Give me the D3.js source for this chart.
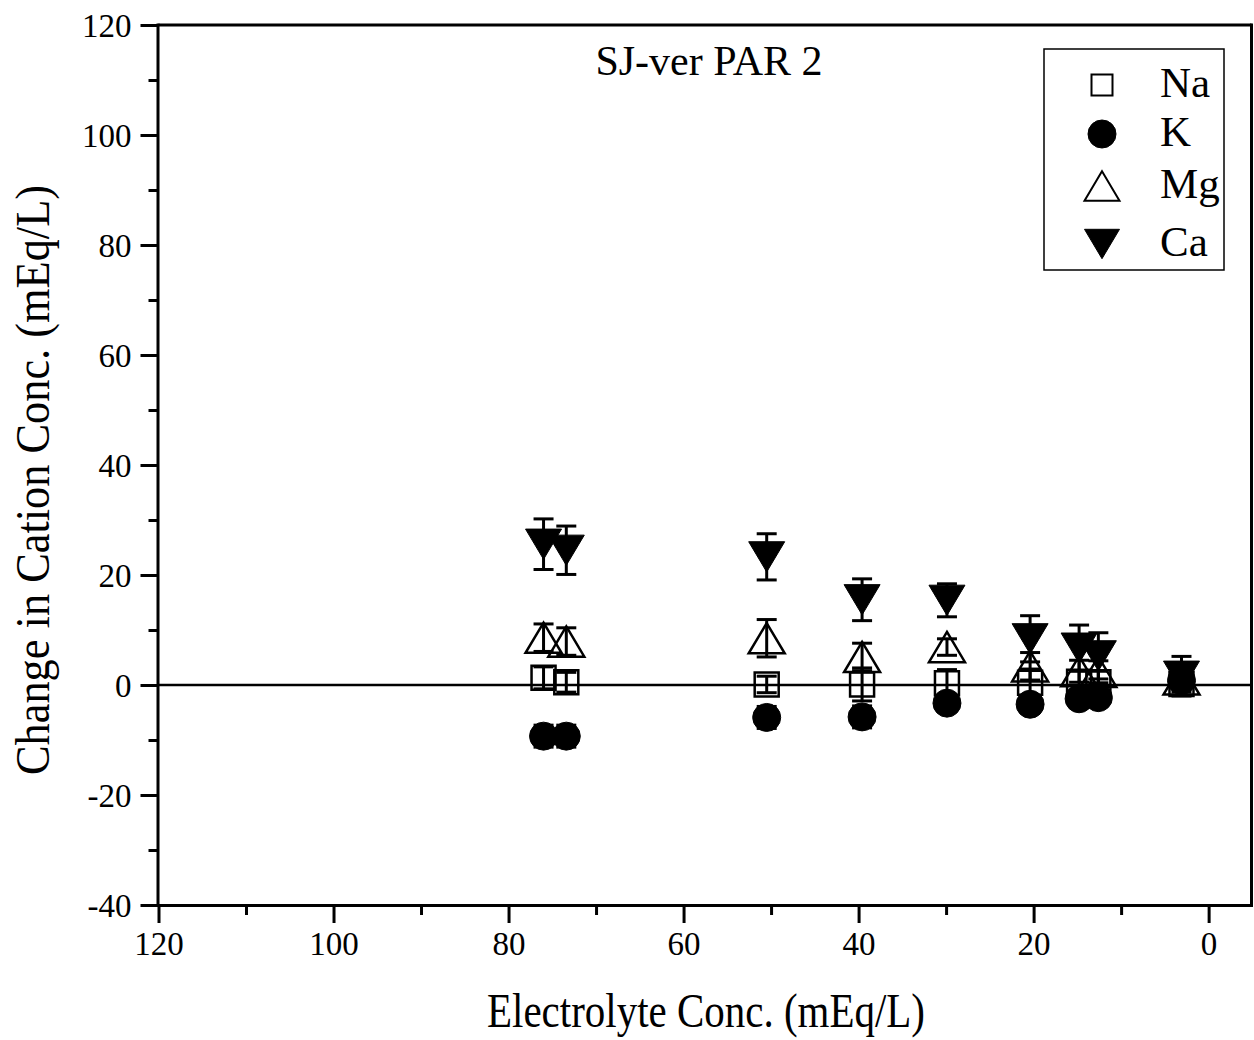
<!DOCTYPE html>
<html><head><meta charset="utf-8">
<script src="https://cdn.jsdelivr.net/npm/d3@7"></script>
<style>html,body{margin:0;padding:0;background:#fff;}svg{display:block;font-family:"Liberation Serif","Times New Roman",serif;}</style>
</head><body>
<svg id="chart" width="1254" height="1040"></svg>
<script>
// ---- data ----
const electrolyte = [76.0, 73.4, 50.5, 39.6, 29.9, 20.4, 14.8, 12.6, 3.1];
const naValues = [1.3, 0.5, 0.1, 0.1, 0.3, 0.4, 0.6, 0.5, 0.2];
const naErrors = [2.0, 1.8, 1.5, 3.0, 2.5, 2.5, 2.0, 2.0, 1.5];
const kValues  = [-9.3, -9.3, -5.9, -5.8, -3.3, -3.5, -2.5, -2.3, 0.8];
const kErrors  = [2.0, 2.0, 2.0, 2.0, 1.5, 1.5, 1.5, 1.5, 1.5];
const mgValues = [8.6, 7.9, 8.5, 5.1, 6.9, 3.4, 2.5, 2.4, 1.0];
const mgErrors = [2.5, 2.5, 3.4, 2.5, 1.5, 2.5, 2.0, 2.0, 1.5];
const caValues = [25.6, 24.5, 23.3, 15.5, 15.4, 8.4, 6.7, 5.3, 1.6];
const caErrors = [4.6, 4.4, 4.2, 3.8, 3.0, 4.2, 4.2, 4.2, 3.6];
const seriesNames = ["Na", "K", "Mg", "Ca"];
const xTicks = [120, 100, 80, 60, 40, 20, 0];
const yTicks = [120, 100, 80, 60, 40, 20, 0, -20, -40];
const titleText = "SJ-ver PAR 2";
const xTitle = "Electrolyte Conc. (mEq/L)";
const yTitle = "Change in Cation Conc. (mEq/L)";

const series = [
  {name: "Na", values: naValues, errors: naErrors, shape: "square", fill: "none"},
  {name: "K",  values: kValues,  errors: kErrors,  shape: "circle", fill: "#000"},
  {name: "Mg", values: mgValues, errors: mgErrors, shape: "triUp",  fill: "none"},
  {name: "Ca", values: caValues, errors: caErrors, shape: "triDown", fill: "#000"}
];

const svg = d3.select("#chart");
svg.append("rect").attr("width",1254).attr("height",1040).attr("fill","#fff");

const L = 158.5, R = 1251.5, T = 25, B = 905;
const x = d3.scaleLinear().domain([120, -4.9]).range([L, R]);
const y = d3.scaleLinear().domain([-40, 120]).range([B, T]);
const fmt = d => String(d); // hyphen-minus like the reference

function symbolPath(shape, s) {
  if (shape === "square") { const h = s/2; return `M${-h},${-h}H${h}V${h}H${-h}Z`; }
  if (shape === "circle") { const r = s/2; return `M${r},0A${r},${r} 0 1,1 ${-r},0A${r},${r} 0 1,1 ${r},0Z`; }
  if (shape === "triUp") { const w = s/2, h = s*0.84; return `M0,${-h/2}L${w},${h/2}L${-w},${h/2}Z`; }
  if (shape === "triDown") { const w = s/2, h = s*0.84; return `M0,${h/2}L${w},${-h/2}L${-w},${-h/2}Z`; }
}
const sizes = {square: 24, circle: 28, triUp: 36, triDown: 36};

// frame
svg.append("line").attr("x1",L).attr("x2",R).attr("y1",T).attr("y2",T).attr("stroke","#000").attr("stroke-width",3);
svg.append("line").attr("x1",R).attr("x2",R).attr("y1",T-1.5).attr("y2",B+1.5).attr("stroke","#000").attr("stroke-width",3);

// zero line
svg.append("line").attr("x1",L).attr("x2",R).attr("y1",y(0)).attr("y2",y(0)).attr("stroke","#000").attr("stroke-width",2.5);

// axes
const xAxis = d3.axisBottom(x).tickValues(xTicks).tickSize(18).tickPadding(6).tickFormat(fmt);
const gx = svg.append("g").attr("transform",`translate(0,${B})`).call(xAxis);
const xMinor = d3.axisBottom(x).tickValues(d3.range(110, -1, -20)).tickSize(10).tickFormat("");
svg.append("g").attr("transform",`translate(0,${B})`).call(xMinor).call(g=>g.select(".domain").remove());
const yAxis = d3.axisLeft(y).tickValues(yTicks).tickSize(18).tickPadding(9).tickFormat(fmt);
const gy = svg.append("g").attr("transform",`translate(${L},0)`).call(yAxis);
const yMinor = d3.axisLeft(y).tickValues(d3.range(110, -40, -20)).tickSize(10).tickFormat("");
svg.append("g").attr("transform",`translate(${L},0)`).call(yMinor).call(g=>g.select(".domain").remove());

svg.selectAll(".domain").attr("stroke","#000").attr("stroke-width",3);
svg.selectAll(".tick line").attr("stroke","#000").attr("stroke-width",3);
gx.select(".domain").attr("d", `M${L-1.5},0.5H${R+1.5}`);
gy.select(".domain").attr("d", `M-0.5,${T-1.5}V${B+1.5}`);
gx.selectAll(".tick text").attr("font-size",33).attr("font-family","Liberation Serif").attr("fill","#000").attr("dy","0.8em");
gy.selectAll(".tick text").attr("font-size",33).attr("font-family","Liberation Serif").attr("fill","#000").attr("dy","0.34em");

// error bars
const capW = 20;
series.forEach(s => {
  const g = svg.append("g").attr("class","err-"+s.name);
  electrolyte.forEach((xv, i) => {
    const v = s.values[i], e = s.errors[i];
    const cx = x(xv);
    g.append("line").attr("x1",cx).attr("x2",cx).attr("y1",y(v+e)).attr("y2",y(v-e)).attr("stroke","#000").attr("stroke-width",3);
    g.append("line").attr("x1",cx-capW/2).attr("x2",cx+capW/2).attr("y1",y(v+e)).attr("y2",y(v+e)).attr("stroke","#000").attr("stroke-width",3);
    g.append("line").attr("x1",cx-capW/2).attr("x2",cx+capW/2).attr("y1",y(v-e)).attr("y2",y(v-e)).attr("stroke","#000").attr("stroke-width",3);
  });
});

// markers
series.forEach(s => {
  svg.append("g").attr("class","pts-"+s.name)
    .selectAll("path").data(electrolyte.map((xv,i)=>({x:xv, v:s.values[i]})))
    .join("path")
    .attr("transform", d => `translate(${x(d.x)},${y(d.v)})`)
    .attr("d", symbolPath(s.shape, sizes[s.shape]))
    .attr("fill", s.fill)
    .attr("stroke", "#000")
    .attr("stroke-width", s.fill === "none" ? 2.5 : 1);
});

// title
svg.append("text").attr("x",709).attr("y",75).attr("text-anchor","middle")
  .attr("font-size",42).attr("fill","#000").text(titleText);

// axis titles
svg.append("text").attr("x",706).attr("y",1027).attr("text-anchor","middle")
  .attr("font-size",49).attr("textLength",438).attr("lengthAdjust","spacingAndGlyphs")
  .attr("fill","#000").text(xTitle);
svg.append("text").attr("transform","translate(49,480) rotate(-90)").attr("text-anchor","middle")
  .attr("font-size",49).attr("textLength",590).attr("lengthAdjust","spacingAndGlyphs")
  .attr("fill","#000").text(yTitle);

// legend
const leg = svg.append("g");
leg.append("rect").attr("x",1044).attr("y",49).attr("width",180).attr("height",221)
  .attr("fill","#fff").attr("stroke","#000").attr("stroke-width",1.5);
const legY = [85, 134, 186, 244];
const legSizes = {square: 21, circle: 28, triUp: 35, triDown: 35};
series.forEach((s, i) => {
  leg.append("path").attr("transform",`translate(1102,${legY[i]})`)
    .attr("d", symbolPath(s.shape, legSizes[s.shape]))
    .attr("fill", s.fill).attr("stroke","#000").attr("stroke-width", s.fill === "none" ? 2 : 1);
  leg.append("text").attr("x",1160).attr("y",legY[i]+12).attr("font-size",43)
    .attr("fill","#000").text(seriesNames[i]);
});
</script>
</body></html>
